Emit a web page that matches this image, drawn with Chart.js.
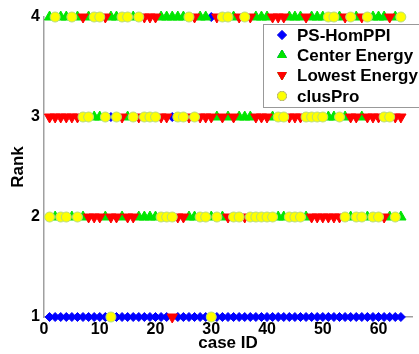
<!DOCTYPE html>
<html>
<head>
<meta charset="utf-8">
<script src="https://cdn.jsdelivr.net/npm/chart.js@4/dist/chart.umd.min.js"></script>
<style>
  body { margin: 0; background: #fff; }
  canvas { display: block; }
</style>
</head>
<body>
<canvas id="chart" width="419" height="354"></canvas>
<script>
// case IDs along the x axis
const caseIds = [1, 2, 3, 4, 5, 6, 7, 8, 9, 10, 11, 12, 13, 14, 15, 16,
  17, 18, 19, 20, 21, 22, 23, 24, 25, 26, 27, 28, 29, 30, 31, 32,
  33, 34, 35, 36, 37, 38, 39, 40, 41, 42, 43, 44, 45, 46, 47, 48,
  49, 50, 51, 52, 53, 54, 55, 56, 57, 58, 59, 60, 61, 62, 63, 64];

// rank of each method for every case
const psHomPPI = [1, 1, 1, 1, 1, 1, 1, 1, 1, 1, 1, 3, 1, 1, 1, 1,
  1, 1, 1, 1, 1, 1, 3, 1, 1, 1, 1, 1, 1, 4, 1, 1,
  1, 1, 1, 1, 1, 1, 1, 1, 1, 1, 1, 1, 1, 1, 1, 1,
  1, 1, 1, 1, 1, 1, 1, 1, 1, 1, 1, 1, 1, 1, 1, 1];
const centerEnergy = [4, 2, 4, 4, 2, 4, 2, 4, 3, 3, 2, 4, 4, 2, 3, 4,
  2, 2, 2, 2, 4, 4, 4, 4, 4, 2, 2, 4, 4, 2, 3, 2,
  3, 4, 3, 3, 3, 4, 4, 4, 3, 2, 2, 4, 4, 4, 2, 4,
  4, 4, 3, 3, 4, 3, 2, 4, 3, 2, 4, 4, 4, 2, 4, 2];
const lowestEnergy = [3, 3, 3, 3, 3, 3, 4, 2, 2, 2, 4, 2, 2, 3, 2, 2,
  3, 4, 4, 4, 3, 3, 1, 2, 2, 3, 4, 3, 3, 3, 4, 3,
  2, 3, 4, 2, 4, 3, 3, 3, 4, 4, 4, 3, 3, 3, 4, 2,
  2, 2, 2, 2, 2, 4, 3, 3, 4, 3, 3, 3, 2, 4, 3, 3];
const clusPro = [2, 4, 2, 2, 4, 2, 3, 3, 4, 4, 3, 1, 3, 4, 4, 3,
  4, 3, 3, 3, 2, 2, 2, 3, 3, 4, 3, 2, 2, 1, 2, 4,
  4, 2, 2, 4, 2, 2, 2, 2, 2, 3, 3, 2, 2, 2, 3, 3,
  3, 3, 4, 4, 3, 2, 4, 2, 2, 4, 2, 2, 3, 3, 2, 4];

const xTicks = [0, 10, 20, 30, 40, 50, 60];
const yTicks = [1, 2, 3, 4];

const FONT = '"Liberation Sans", Arial, sans-serif';

function points(ranks) {
  return caseIds.map((id, i) => ({ x: id, y: ranks[i] }));
}

// boxed legend in the upper right, like the original figure
const boxLegend = {
  id: 'boxLegend',
  afterDraw(chart) {
    const ctx = chart.ctx;
    const left = 263, top = 24, right = 425, bottom = 107;
    ctx.save();
    ctx.fillStyle = '#fff';
    ctx.fillRect(left, top, right - left, bottom - top);
    ctx.strokeStyle = '#999';
    ctx.lineWidth = 1;
    ctx.strokeRect(left + 0.5, top + 0.5, right - left, bottom - top);
    const rowY = [35, 55, 75, 96];
    chart.data.datasets.forEach((ds, i) => {
      const y = rowY[i];
      Chart.helpers.drawPoint(ctx, {
        pointStyle: ds.pointStyle,
        radius: ds.legendRadius,
        rotation: ds.rotation || 0,
        borderWidth: 1
      }, 282, y);
      ctx.fillStyle = ds.backgroundColor;
      ctx.strokeStyle = ds.borderColor;
      ctx.lineWidth = 1;
      ctx.fill();
      ctx.stroke();
      ctx.fillStyle = '#000';
      ctx.font = 'bold 17px ' + FONT;
      ctx.textBaseline = 'middle';
      ctx.textAlign = 'left';
      ctx.fillText(ds.label, 297, y + 1);
    });
    ctx.restore();
  }
};

new Chart(document.getElementById('chart'), {
  type: 'scatter',
  data: {
    datasets: [
      {
        label: 'PS-HomPPI', data: points(psHomPPI),
        pointStyle: 'rectRot', pointRadius: 4.5, legendRadius: 4.5,
        backgroundColor: '#0000ff', borderColor: '#0000ff', borderWidth: 1,
        order: 3, clip: false
      },
      {
        label: 'Center Energy', data: points(centerEnergy),
        pointStyle: 'triangle', pointRadius: 6, legendRadius: 5,
        backgroundColor: '#00e600', borderColor: '#00e600', borderWidth: 1,
        order: 2, clip: false
      },
      {
        label: 'Lowest Energy', data: points(lowestEnergy),
        pointStyle: 'triangle', rotation: 180, pointRotation: 180,
        pointRadius: 6, legendRadius: 5,
        backgroundColor: '#ff0000', borderColor: '#ff0000', borderWidth: 1,
        order: 1, clip: false
      },
      {
        label: 'clusPro', data: points(clusPro),
        pointStyle: 'circle', pointRadius: 5, legendRadius: 4.5,
        backgroundColor: '#ffff00', borderColor: '#b5dc7a', borderWidth: 1,
        order: 0, clip: false
      }
    ]
  },
  options: {
    responsive: false,
    animation: false,
    events: [],
    layout: { padding: { top: 17, right: 0, left: 0, bottom: 0 } },
    plugins: { legend: { display: false }, tooltip: { enabled: false } },
    scales: {
      x: {
        type: 'linear', min: 0, max: 66,
        afterBuildTicks: s => { s.ticks = xTicks.map(v => ({ value: v })); },
        afterFit: s => { s.height = 37; },
        grid: { display: false, drawTicks: false },
        border: { display: true, color: '#a0a0a0', width: 1.5 },
        ticks: { color: '#000', padding: 3, font: { family: FONT, size: 16, weight: 'bold' } },
        title: {
          display: true, text: 'case ID', color: '#000',
          padding: { top: 0, bottom: 0 },
          font: { family: FONT, size: 17, weight: 'bold' }
        }
      },
      y: {
        type: 'linear', min: 1, max: 4,
        afterBuildTicks: s => { s.ticks = yTicks.map(v => ({ value: v })); },
        afterFit: s => { s.width = 44; },
        grid: { display: false, drawTicks: false },
        border: { display: true, color: '#a0a0a0', width: 1.5 },
        ticks: { color: '#000', padding: 4, font: { family: FONT, size: 16, weight: 'bold' } },
        title: {
          display: true, text: 'Rank', color: '#000',
          padding: { top: 8, bottom: 0 },
          font: { family: FONT, size: 17, weight: 'bold' }
        }
      }
    }
  },
  plugins: [boxLegend]
});
</script>
</body>
</html>
